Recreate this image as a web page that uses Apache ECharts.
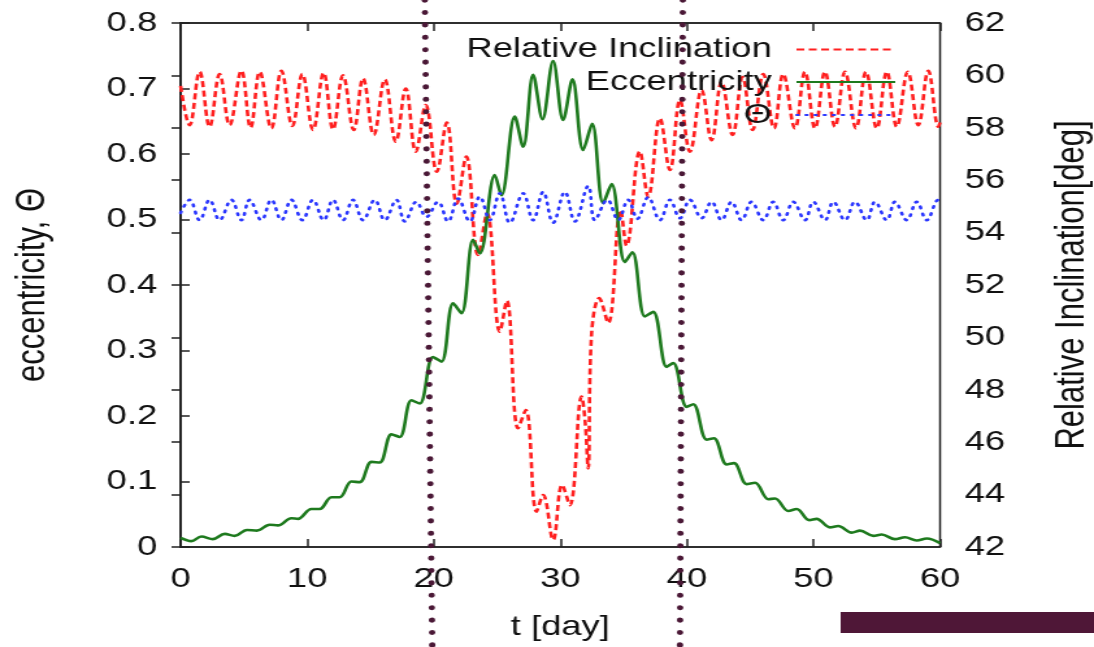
<!DOCTYPE html>
<html>
<head>
<meta charset="utf-8">
<title>Relative Inclination / Eccentricity</title>
<script src="https://cdn.jsdelivr.net/npm/echarts@6/dist/echarts.min.js"></script>
<style>
html, body { margin: 0; padding: 0; background: #fff; overflow: hidden; }
/* the original plot is stretched sideways, so draw it narrow and widen it */
#chartDiv { width: 842px; height: 647px; transform: scaleX(1.2993); transform-origin: 0 0; }
</style>
</head>
<body>
<div id="chartDiv"></div>
<script>
var incT = [0, 0.71, 1.50, 2.29, 3.08, 3.87, 4.80, 5.53, 6.25, 7.17, 7.96, 8.83, 9.62, 10.46, 11.30, 12.04,
  12.83, 13.68, 14.41, 15.26, 16.13, 17.00, 17.79, 18.58, 19.37, 20.24, 21.03, 21.82, 22.57, 23.50, 24.21,
  25.22, 25.77, 26.66, 27.27, 28.12, 28.64, 29.43, 30.14, 30.75, 31.68, 31.94, 32.20, 32.47, 33.07, 33.78,
  34.76, 35.23, 36.28, 36.94, 37.87, 38.66, 39.45, 40.24, 41.16, 41.95, 42.74, 43.61, 44.40, 45.19, 46.03,
  46.88, 47.61, 48.54, 49.33, 50.12, 50.91, 51.70, 52.49, 53.36, 54.15, 55.00, 55.79, 56.58, 57.45, 58.28,
  59.07, 59.87, 60];
var incVal = [59.6, 58.1, 60.14, 58.04, 60.05, 58.1, 60.18, 58.0, 60.14, 57.98, 60.18, 58.07, 60.05, 57.92, 60.1, 57.94,
  60.0, 57.92, 59.89, 57.73, 59.85, 57.47, 59.5, 57.09, 58.87, 56.32, 58.2, 55.1, 56.9, 53.15, 54.74,
  50.22, 51.4, 46.53, 47.23, 43.35, 43.98, 42.27, 44.37, 43.6, 47.74, 46.9, 45.0, 50.15, 51.5, 50.55,
  54.86, 53.5, 57.1, 55.37, 58.36, 56.39, 59.06, 57.09, 59.44, 57.53, 59.76, 57.73, 59.94, 57.92, 60.05,
  57.98, 60.05, 57.98, 60.14, 57.98, 60.14, 58.04, 60.14, 57.98, 60.14, 57.98, 60.14, 58.04, 60.14, 58.1,
  60.18, 58.04, 58.2];

var eccT = [0, 0.85, 1.64, 2.55, 3.48, 4.27, 5.24, 6.03, 7.04, 7.69, 8.75, 9.27, 10.33, 10.99, 11.91, 12.57,
  13.49, 14.15, 15.08, 15.73, 16.66, 17.31, 18.24, 18.89, 19.94, 20.61, 21.53, 22.19, 23.11, 23.64, 24.82,
  25.35, 26.40, 27.06, 27.85, 28.59, 29.43, 30.22, 30.96, 31.80, 32.51, 33.38, 34.05, 35.10, 35.69, 36.68,
  37.34, 38.40, 38.92, 39.98, 40.50, 41.56, 42.13, 43.14, 43.72, 44.72, 45.38, 46.43, 46.96, 48.01, 48.67,
  49.67, 50.25, 51.30, 51.96, 53.02, 53.68, 54.73, 55.39, 56.44, 57.23, 58.16, 58.95, 60];
var eccVal = [0.014, 0.009, 0.016, 0.012, 0.020, 0.017, 0.026, 0.025, 0.034, 0.033, 0.044, 0.043, 0.058, 0.058, 0.076, 0.076,
  0.100, 0.099, 0.130, 0.129, 0.172, 0.168, 0.224, 0.219, 0.290, 0.283, 0.372, 0.357, 0.469, 0.448, 0.568,
  0.537, 0.657, 0.611, 0.721, 0.653, 0.742, 0.652, 0.714, 0.606, 0.646, 0.525, 0.554, 0.435, 0.450, 0.352,
  0.359, 0.275, 0.281, 0.214, 0.218, 0.164, 0.166, 0.126, 0.128, 0.096, 0.098, 0.073, 0.074, 0.055, 0.058,
  0.041, 0.043, 0.030, 0.032, 0.022, 0.025, 0.017, 0.019, 0.012, 0.015, 0.010, 0.013, 0.006];

var thetaT = [0, 0.71, 1.50, 2.29, 3.08, 4.01, 4.80, 5.45, 6.38, 7.17, 7.96, 8.75, 9.62, 10.46, 11.30, 12.04,
  12.83, 13.62, 14.41, 15.34, 16.13, 17.05, 17.71, 18.63, 19.42, 20.34, 21.13, 21.92, 22.85, 23.64, 24.43,
  25.22, 26.01, 27.06, 27.85, 28.64, 29.43, 30.36, 31.15, 32.20, 32.73, 33.72, 34.57, 35.36, 36.09, 36.94,
  37.87, 38.66, 39.45, 40.24, 41.16, 41.95, 42.74, 43.53, 44.32, 45.11, 46.03, 46.82, 47.61, 48.40, 49.33,
  49.98, 50.91, 51.57, 52.49, 53.28, 54.21, 54.86, 55.79, 56.44, 57.37, 58.16, 58.95, 59.87, 60];
var thetaVal = [0.510, 0.530, 0.499, 0.530, 0.499, 0.530, 0.499, 0.530, 0.499, 0.530, 0.499, 0.530, 0.499, 0.530, 0.499, 0.530,
  0.499, 0.530, 0.499, 0.530, 0.499, 0.530, 0.497, 0.527, 0.504, 0.527, 0.497, 0.532, 0.497, 0.535, 0.499,
  0.540, 0.495, 0.540, 0.499, 0.542, 0.495, 0.542, 0.497, 0.551, 0.499, 0.530, 0.499, 0.530, 0.501, 0.534,
  0.499, 0.530, 0.502, 0.530, 0.502, 0.527, 0.499, 0.527, 0.499, 0.527, 0.499, 0.527, 0.499, 0.527, 0.499,
  0.527, 0.499, 0.527, 0.499, 0.527, 0.499, 0.527, 0.499, 0.527, 0.499, 0.527, 0.499, 0.530, 0.528];

// the two dotted marker lines run over the whole picture (values on the left axis scale)
var markerTopT = [19.29, 39.68];
var markerBottomT = [19.88, 39.45];
var markerEnds = [0.835, -0.153];

var FONT = '"Liberation Sans", Arial, sans-serif';
var INK = '#111';

function zip(ts, vs) {
  var out = [];
  for (var i = 0; i < ts.length; i++) {
    out.push([ts[i], vs[i]]);
  }
  return out;
}

function keyLegend(name, top) {
  return {
    data: [name],
    orient: 'vertical',
    align: 'right',
    right: 147,
    top: top,
    itemWidth: 76,
    itemHeight: 14,
    selectedMode: false,
    itemStyle: { opacity: 0 },
    textStyle: { fontFamily: FONT, fontSize: 28, color: INK, padding: [0, 14, 0, 0] }
  };
}

var axisLineStyle = { color: '#222', width: 1.5 };

var chart = echarts.init(document.getElementById('chartDiv'));

var markerSeries = [];
for (var m = 0; m < markerTopT.length; m++) {
  markerSeries.push({
    name: 'marker' + m,
    type: 'line',
    yAxisIndex: 0,
    clip: false,
    silent: true,
    symbol: 'none',
    z: 10,
    lineStyle: { color: '#4a1836', width: 5, type: [0.1, 12.3], cap: 'round' },
    data: [[markerTopT[m], markerEnds[0]], [markerBottomT[m], markerEnds[1]]]
  });
}

var option = {
  animation: false,
  backgroundColor: '#fff',
  grid: {
    left: 139, right: 118.5, top: 23, bottom: 100,
    outerBoundsMode: 'none',
    show: true, borderColor: '#222', borderWidth: 1.5
  },
  legend: [
    keyLegend('Relative Inclination', 30.5),
    keyLegend('Eccentricity', 63),
    keyLegend('Θ', 96)
  ],
  xAxis: [
    {
      type: 'value', min: 0, max: 60, interval: 10, position: 'bottom',
      name: 't [day]', nameLocation: 'middle', nameGap: 66,
      nameTextStyle: { fontFamily: FONT, fontSize: 28, color: INK },
      axisLine: { lineStyle: axisLineStyle },
      axisTick: { inside: true, length: 8, lineStyle: axisLineStyle },
      axisLabel: { fontFamily: FONT, fontSize: 28, color: INK, margin: 18 },
      splitLine: { show: false }
    },
    {
      type: 'value', min: 0, max: 60, interval: 10, position: 'top',
      axisLine: { lineStyle: axisLineStyle },
      axisTick: { inside: true, length: 8, lineStyle: axisLineStyle },
      axisLabel: { show: false },
      splitLine: { show: false }
    }
  ],
  yAxis: [
    {
      type: 'value', min: 0, max: 0.8, interval: 0.1, position: 'left',
      name: 'eccentricity, Θ', nameLocation: 'middle', nameGap: 98, nameRotate: 90,
      nameTextStyle: { fontFamily: FONT, fontSize: 31, color: INK },
      axisLine: { lineStyle: axisLineStyle },
      axisTick: { inside: true, length: 7, lineStyle: axisLineStyle },
      axisLabel: { fontFamily: FONT, fontSize: 28, color: INK, margin: 18 },
      splitLine: { show: false }
    },
    {
      type: 'value', min: 42, max: 62, interval: 2, position: 'right',
      name: 'Relative Inclination[deg]', nameLocation: 'middle', nameGap: 86, nameRotate: 90,
      nameTextStyle: { fontFamily: FONT, fontSize: 31, color: INK },
      axisLine: { lineStyle: axisLineStyle },
      axisTick: { inside: true, length: 7, lineStyle: axisLineStyle },
      axisLabel: { fontFamily: FONT, fontSize: 28, color: INK, margin: 19 },
      splitLine: { show: false }
    }
  ],
  series: [
    {
      name: 'Relative Inclination',
      type: 'line',
      yAxisIndex: 1,
      symbol: 'none',
      smooth: 0.4,
      lineStyle: { color: '#ff1f1f', width: 2.6, type: [6, 3.5] },
      itemStyle: { color: '#ff1f1f' },
      data: zip(incT, incVal)
    },
    {
      name: 'Eccentricity',
      type: 'line',
      yAxisIndex: 0,
      symbol: 'none',
      smooth: 0.35,
      lineStyle: { color: '#1e7a1e', width: 2.6 },
      itemStyle: { color: '#1e7a1e' },
      data: zip(eccT, eccVal)
    },
    {
      name: 'Θ',
      type: 'line',
      yAxisIndex: 0,
      symbol: 'none',
      smooth: 0.4,
      lineStyle: { color: '#2a36ff', width: 2.6, type: [1.5, 5.5], cap: 'round' },
      itemStyle: { color: '#2a36ff' },
      data: zip(thetaT, thetaVal)
    }
  ].concat(markerSeries),
  graphic: [
    {
      type: 'rect',
      left: 647, top: 612,
      shape: { width: 195, height: 21 },
      style: { fill: '#4f1737' },
      silent: true
    }
  ]
};

chart.setOption(option);
</script>
</body>
</html>
